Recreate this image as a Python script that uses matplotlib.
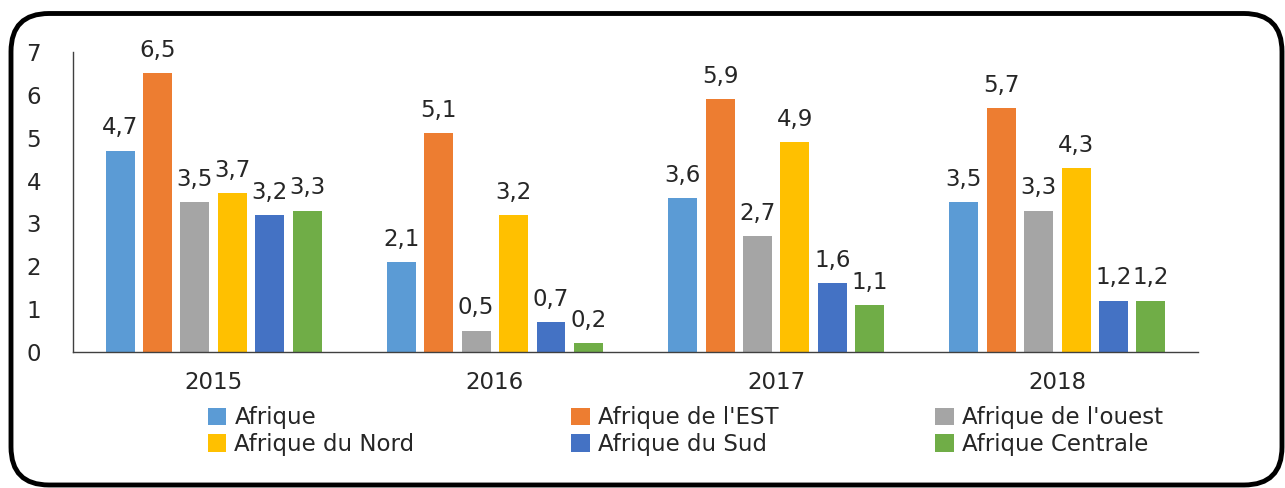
import matplotlib
matplotlib.use("Agg")
import matplotlib.pyplot as plt
import numpy as np
from matplotlib.patches import FancyBboxPatch

years = ["2015", "2016", "2017", "2018"]
series_names = ["Afrique", "Afrique de l'EST", "Afrique de l'ouest",
                "Afrique du Nord", "Afrique du Sud", "Afrique Centrale"]
afrique = [4.7, 2.1, 3.6, 3.5]
afrique_est = [6.5, 5.1, 5.9, 5.7]
afrique_ouest = [3.5, 0.5, 2.7, 3.3]
afrique_nord = [3.7, 3.2, 4.9, 4.3]
afrique_sud = [3.2, 0.7, 1.6, 1.2]
afrique_centrale = [3.3, 0.2, 1.1, 1.2]
series_values = [afrique, afrique_est, afrique_ouest, afrique_nord, afrique_sud, afrique_centrale]
colors = ["#5B9BD5", "#ED7D31", "#A5A5A5", "#FFC000", "#4472C4", "#70AD47"]
y_ticks = [0, 1, 2, 3, 4, 5, 6, 7]

plt.rcParams['font.family'] = ['DejaVu Sans']
txt = "#262626"
fs = 16.5

fig = plt.figure(figsize=(12.85, 4.88), dpi=100)

# background frame
bg = fig.add_axes([0, 0, 1, 1], zorder=0)
bg.set_xlim(0, 1285)
bg.set_ylim(488, 0)
bg.axis("off")
bg.add_patch(FancyBboxPatch((11, 13.5), 1271, 471.5,
                            boxstyle="round,pad=0,rounding_size=38",
                            fill=False, lw=3.5, ec="black"))

ax = fig.add_axes([73/1285, 1-352/488, (1198-73)/1285, 300/488], zorder=1)
ax.patch.set_alpha(0)

x = np.arange(len(years))
step = 0.133
width = 0.103
handles = []
for i, (name, vals, c) in enumerate(zip(series_names, series_values, colors)):
    pos = x + (i - 2.5) * step
    b = ax.bar(pos, vals, width, color=c, label=name, zorder=2)
    ax.bar_label(b, labels=[f"{v:.1f}".replace(".", ",") for v in vals],
                 padding=8, fontsize=fs, color=txt)
    handles.append(b)

ax.set_xlim(-0.5, 3.5)
ax.set_ylim(0, 7)
ax.set_yticks(y_ticks)
ax.set_yticklabels([str(t) for t in y_ticks])
ax.set_xticks(x)
ax.set_xticklabels(years)
ax.tick_params(axis="y", length=0, pad=23, labelsize=fs, labelcolor=txt)
ax.tick_params(axis="x", length=0, pad=14, labelsize=fs, labelcolor=txt)
for s in ["top", "right"]:
    ax.spines[s].set_visible(False)
ax.spines["left"].set_color("#404040")
ax.spines["bottom"].set_color("#404040")
ax.spines["left"].set_linewidth(1.0)
ax.spines["bottom"].set_linewidth(1.0)

order = [0, 3, 1, 4, 2, 5]
leg = fig.legend([handles[i] for i in order], [series_names[i] for i in order],
                 ncol=3, loc="center left", bbox_to_anchor=(208/1285, 1-431/488),
                 frameon=False, fontsize=fs, handlelength=0.8, handleheight=0.8,
                 handletextpad=0.35, columnspacing=6.85, labelspacing=0.15,
                 borderpad=0, borderaxespad=0)
for t in leg.get_texts():
    t.set_color(txt)

fig.savefig("out.png", dpi=100)
